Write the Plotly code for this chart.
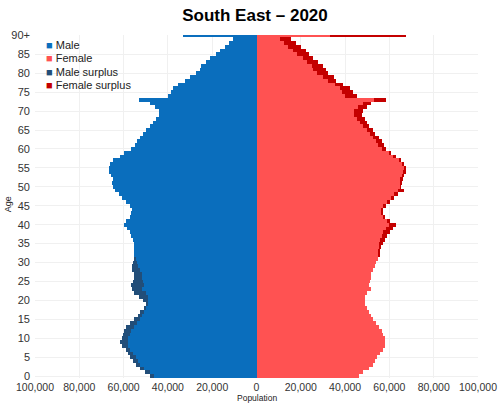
import plotly.graph_objects as go

ages = list(range(0, 91))
age_ticks = list(range(0, 91, 5))
age_tick_labels = [str(a) for a in range(0, 90, 5)] + ["90+"]

male = [48.0, 50.3, 52.5, 54.3, 55.8, 56.9, 57.9, 59.1, 60.9, 61.5,
        60.9, 60.3, 59.7, 58.8, 57.0, 55.1, 53.6, 52.5, 50.9, 49.8,
        51.3, 53.1, 55.1, 56.3, 56.6, 55.8, 55.1, 55.5, 56.1, 56.1,
        55.8, 55.5, 55.1, 55.1, 55.2, 55.5, 55.8, 56.6, 57.3, 58.5,
        59.6, 59.1, 57.3, 56.6, 56.1, 57.3, 58.8, 60.6, 62.2, 64.1,
        64.9, 65.2, 64.9, 65.6, 66.4, 66.7, 66.1, 64.6, 61.5, 59.6,
        56.5, 55.0, 54.0, 52.8, 51.3, 49.8, 48.3, 46.8, 45.3, 43.8,
        43.8, 46.0, 48.3, 53.1, 40.0, 38.5, 37.8, 35.5, 32.5, 30.2,
        27.2, 25.7, 25.0, 23.0, 21.2, 18.5, 16.7, 14.0, 12.2, 10.7,
        33.4]
female = [46.2, 48.3, 50.7, 52.5, 53.7, 54.3, 55.8, 57.0, 57.9, 58.2,
          57.8, 57.2, 56.6, 55.5, 54.0, 52.8, 51.8, 51.0, 50.1, 49.2,
          48.8, 49.2, 50.1, 51.6, 51.0, 51.2, 51.5, 51.9, 52.8, 53.7,
          54.0, 54.8, 55.5, 55.8, 56.3, 57.0, 57.8, 58.8, 60.3, 61.8,
          62.8, 60.3, 58.2, 56.7, 57.0, 58.5, 60.3, 62.3, 63.8, 66.5,
          65.0, 65.3, 66.1, 66.5, 67.3, 67.1, 66.5, 65.3, 62.8, 60.8,
          58.5, 57.5, 56.7, 55.2, 53.7, 52.5, 51.0, 49.8, 48.8, 47.7,
          48.3, 49.8, 51.8, 58.5, 45.3, 43.5, 42.0, 39.0, 36.0, 34.8,
          32.2, 31.5, 29.9, 27.7, 25.4, 23.9, 22.4, 20.2, 17.9, 15.7,
          67.3]

x_tick_vals = [-100000, -80000, -60000, -40000, -20000, 0, 20000, 40000, 60000, 80000, 100000]
x_tick_text = ["100,000", "80,000", "60,000", "40,000", "20,000", "0",
               "20,000", "40,000", "60,000", "80,000", "100,000"]

legend_names = ["Male", "Female", "Male surplus", "Female surplus"]

male_n = [v * 1000 for v in male]
female_n = [v * 1000 for v in female]
common = [min(m, f) for m, f in zip(male_n, female_n)]
male_surplus = [max(m - f, 0) for m, f in zip(male_n, female_n)]
female_surplus = [max(f - m, 0) for m, f in zip(male_n, female_n)]

C_MALE = "#0a6ebd"
C_FEMALE = "#ff5252"
C_MSUR = "#224e79"
C_FSUR = "#c40000"
colors = [C_MALE, C_FEMALE, C_MSUR, C_FSUR]

fig = go.Figure()
series = [[-c for c in common], common, [-s for s in male_surplus], female_surplus]
for name, vals, col in zip(legend_names, series, colors):
    fig.add_trace(go.Bar(y=ages, x=vals, orientation="h", name=name,
                         marker=dict(color=col, line=dict(width=0)), width=1,
                         showlegend=False))

# custom compact legend
leg_y = [0.971, 0.933, 0.893, 0.855]
for name, col, yy in zip(legend_names, colors, leg_y):
    fig.add_annotation(xref="paper", yref="paper", x=0.02, y=yy, xanchor="left", yanchor="middle",
                       showarrow=False,
                       text=f"<span style='color:{col}'>■</span> {name}",
                       font=dict(size=11, color="#222"))

# axis titles
fig.add_annotation(xref="paper", yref="paper", x=0.5, y=-0.058, xanchor="center", yanchor="middle",
                   showarrow=False, text="Population", font=dict(size=8.5, color="#222"))
fig.add_annotation(xref="paper", yref="paper", x=-0.062, y=0.505, xanchor="center", yanchor="middle",
                   showarrow=False, text="Age", textangle=-90, font=dict(size=9, color="#222"))

fig.update_layout(
    width=500, height=403,
    barmode="relative", bargap=0,
    paper_bgcolor="white", plot_bgcolor="white",
    margin=dict(l=35, r=22, t=35, b=25, autoexpand=False),
    font=dict(family="Liberation Sans, Arial, sans-serif", size=11, color="#222"),
    title=dict(text="<b>South East – 2020</b>", x=0.51, xanchor="center", y=0.978, yanchor="top",
               font=dict(size=17, color="#000")),
    showlegend=False,
    xaxis=dict(range=[-100000, 100000], tickvals=x_tick_vals, ticktext=x_tick_text,
               showgrid=True, gridcolor="#f0f0f0", zeroline=False, ticks="",
               automargin=False, ticklabelstandoff=1,
               tickfont=dict(size=10.5, color="#333")),
    yaxis=dict(range=[-0.5, 90.1], tickvals=age_ticks, ticktext=age_tick_labels,
               showgrid=True, gridcolor="#f0f0f0", zeroline=False, ticks="",
               automargin=False, ticklabelstandoff=4,
               tickfont=dict(size=11, color="#333")),
)

fig.write_html("out.html", config={"displayModeBar": False},
               post_script="document.body.style.margin='0';")
